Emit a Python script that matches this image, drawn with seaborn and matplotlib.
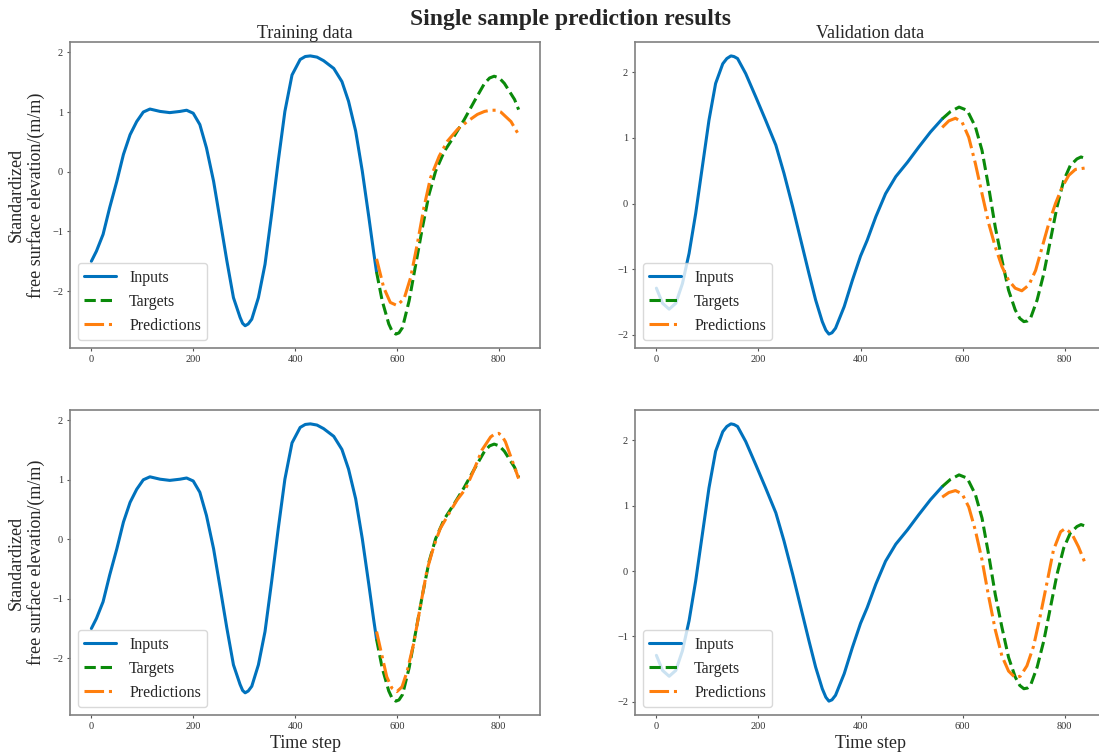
import numpy as np
import pandas as pd
import matplotlib
matplotlib.use("Agg")
import matplotlib.pyplot as plt
import seaborn as sns

# ---------------- data ----------------
train_in_x = [0, 10, 23, 36, 50, 63, 76, 89, 102, 115, 135, 154, 174, 187, 200, 213, 226, 240,
              253, 266, 279, 292, 297, 302, 308, 315, 328, 341, 354, 367, 380, 394, 410, 420,
              430, 443, 456, 476, 492, 505, 519, 532, 545, 554, 560]
train_in_y = [-1.50, -1.33, -1.05, -0.60, -0.16, 0.29, 0.62, 0.84, 1.00, 1.05, 1.01, 0.99, 1.01,
              1.03, 0.98, 0.79, 0.40, -0.16, -0.82, -1.49, -2.11, -2.44, -2.54, -2.58, -2.55,
              -2.47, -2.11, -1.55, -0.71, 0.18, 1.01, 1.62, 1.88, 1.93, 1.94, 1.92, 1.86, 1.73,
              1.51, 1.18, 0.68, 0.01, -0.77, -1.33, -1.68]

train_tg_x = [560, 571, 584, 591, 598, 604, 611, 624, 637, 650, 663, 676, 693, 712, 732, 752,
              772, 782, 791, 801, 811, 831, 839]
train_tg_y = [-1.68, -2.16, -2.55, -2.68, -2.72, -2.70, -2.61, -2.16, -1.55, -0.94, -0.38, 0.01,
              0.34, 0.59, 0.87, 1.18, 1.48, 1.57, 1.60, 1.57, 1.48, 1.21, 1.04]

train_pr1_x = [560, 574, 587, 600, 614, 627, 640, 653, 666, 683, 699, 719, 738, 758, 772, 784,
               794, 804, 824, 839]
train_pr1_y = [-1.46, -1.94, -2.19, -2.24, -2.13, -1.77, -1.21, -0.60, -0.10, 0.26, 0.51, 0.71,
               0.84, 0.96, 1.01, 1.03, 1.03, 1.00, 0.84, 0.62]

train_pr2_x = [560, 571, 580, 590, 600, 610, 620, 633, 646, 659, 672, 685, 702, 718, 735, 751,
               767, 784, 792, 800, 806, 813, 826, 839]
train_pr2_y = [-1.55, -1.97, -2.31, -2.50, -2.56, -2.48, -2.22, -1.75, -1.13, -0.52, -0.13,
               0.18, 0.43, 0.66, 0.85, 1.16, 1.50, 1.72, 1.77, 1.78, 1.74, 1.64, 1.33, 1.02]

val_in_x = [0, 12, 25, 38, 51, 64, 77, 90, 103, 116, 130, 138, 146, 152, 159, 175, 195, 214,
            234, 250, 267, 283, 299, 312, 325, 332, 338, 344, 351, 368, 384, 400, 413, 430,
            449, 469, 492, 514, 537, 560]
val_in_y = [-1.29, -1.52, -1.61, -1.52, -1.22, -0.76, -0.15, 0.56, 1.27, 1.83, 2.13, 2.21,
            2.25, 2.24, 2.21, 1.98, 1.62, 1.27, 0.89, 0.46, -0.05, -0.56, -1.07, -1.47, -1.80,
            -1.93, -1.99, -1.97, -1.90, -1.57, -1.17, -0.80, -0.56, -0.20, 0.15, 0.41, 0.63,
            0.86, 1.09, 1.29]

val_tg_x = [560, 576, 593, 609, 625, 638, 651, 664, 677, 690, 703, 712, 720, 727, 733, 746,
            759, 772, 785, 798, 811, 824, 832, 839]
val_tg_y = [1.29, 1.40, 1.47, 1.42, 1.17, 0.81, 0.25, -0.36, -0.86, -1.32, -1.62, -1.75,
            -1.80, -1.79, -1.75, -1.47, -1.07, -0.56, -0.05, 0.35, 0.58, 0.68, 0.71, 0.69]

val_pr1_x = [560, 573, 586, 599, 612, 625, 638, 651, 664, 677, 690, 703, 716, 730, 743, 756,
             769, 782, 795, 808, 821, 839]
val_pr1_y = [1.16, 1.26, 1.30, 1.24, 1.01, 0.61, 0.15, -0.30, -0.66, -0.96, -1.17, -1.29,
             -1.33, -1.24, -1.02, -0.66, -0.30, 0.00, 0.25, 0.43, 0.52, 0.54]

val_pr2_x = [560, 573, 586, 599, 612, 625, 638, 651, 664, 677, 690, 703, 713, 726, 739, 752,
             765, 778, 792, 801, 814, 827, 839]
val_pr2_y = [1.13, 1.20, 1.23, 1.18, 0.98, 0.62, 0.17, -0.39, -0.90, -1.30, -1.53, -1.63,
             -1.61, -1.45, -1.15, -0.69, -0.19, 0.32, 0.60, 0.65, 0.57, 0.37, 0.14]

series_labels = ["Inputs", "Targets", "Predictions"]
panel_titles = ["Training data", "Validation data"]
suptitle = "Single sample prediction results"
ylabel = "Standardized\nfree surface elevation/(m/m)"
xlabel = "Time step"

# ---------------- style ----------------
sns.set_style("ticks")
plt.rcParams["font.family"] = ["Liberation Serif", "DejaVu Serif"]
plt.rcParams["axes.unicode_minus"] = True

C_IN, C_TG, C_PR = "#0072BD", "#0A8A0A", "#FF7F0E"
LW = 2.2

fig = plt.figure(figsize=(10.99, 7.52), dpi=100)
W, H = 1099.0, 752.0
def add_ax(left, top, right, bottom):
    return fig.add_axes([left / W, 1 - bottom / H, (right - left) / W, (bottom - top) / H])

ax_tl = add_ax(70, 42, 540, 348)
ax_tr = add_ax(635, 42, 1106, 348)
ax_bl = add_ax(70, 410, 540, 715)
ax_br = add_ax(635, 410, 1106, 715)

panels = [
    (ax_tl, train_in_x, train_in_y, train_tg_x, train_tg_y, train_pr1_x, train_pr1_y),
    (ax_tr, val_in_x, val_in_y, val_tg_x, val_tg_y, val_pr1_x, val_pr1_y),
    (ax_bl, train_in_x, train_in_y, train_tg_x, train_tg_y, train_pr2_x, train_pr2_y),
    (ax_br, val_in_x, val_in_y, val_tg_x, val_tg_y, val_pr2_x, val_pr2_y),
]

for ax, ix, iy, tx, ty, px, py in panels:
    sns.lineplot(x=ix, y=iy, ax=ax, color=C_IN, lw=LW, label=series_labels[0])
    sns.lineplot(x=tx, y=ty, ax=ax, color=C_TG, lw=LW, linestyle="--", label=series_labels[1])
    sns.lineplot(x=px, y=py, ax=ax, color=C_PR, lw=LW, linestyle="-.", label=series_labels[2])
    ax.set_xticks([0, 200, 400, 600, 800])
    ax.tick_params(axis="both", labelsize=7.5, length=2.5, width=0.8, pad=2.5,
                   color="#555555", labelcolor="#333333", direction="out")
    for s in ax.spines.values():
        s.set_visible(True)
        s.set_color("#808080")
        s.set_linewidth(1.2)
    ax.set_xlabel("")
    ax.set_ylabel("")
    ax.legend(loc="lower left", fontsize=11.5, frameon=True, fancybox=True,
              framealpha=0.8, edgecolor="#d0d0d0", handlelength=2.0)

ax_tl.set_title(panel_titles[0], fontsize=13, pad=3)
ax_tr.set_title(panel_titles[1], fontsize=13, pad=3)
for ax in (ax_tl, ax_bl):
    ax.set_ylabel(ylabel, fontsize=13, labelpad=5)
for ax in (ax_bl, ax_br):
    ax.set_xlabel(xlabel, fontsize=13, labelpad=3)

fig.text(571 / W, 1 - 19 / H, suptitle, fontsize=17, fontweight="bold",
         ha="center", va="center")

fig.savefig("out.png", dpi=100)
